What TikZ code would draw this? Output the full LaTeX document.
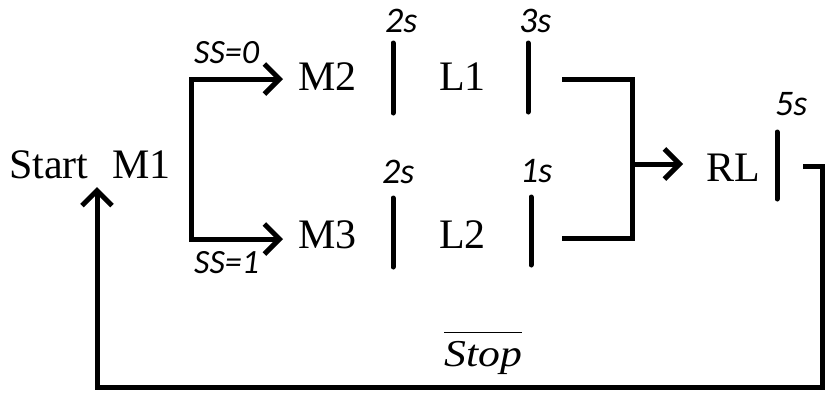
\documentclass[tikz,border=0pt]{standalone}
\usepackage{fontspec}
\usetikzlibrary{arrows.meta}
\newfontfamily\plainserif{Liberation Serif}
\newfontfamily\wideitalic{Liberation Serif Italic}[FakeStretch=1.15]
\newfontfamily\timefont{Carlito}
\tikzset{
  lbl/.style={inner sep=0pt, anchor=base west, font=\plainserif\fontsize{42}{46}\selectfont},
  tlbl/.style={inner sep=0pt, anchor=base west, font=\timefont\itshape\fontsize{36}{40}\selectfont},
  condlbl/.style={inner sep=0pt, anchor=base west, font=\timefont\itshape\fontsize{34}{38}\selectfont},
  wire/.style={line width=5pt, line join=miter},
  contact/.style={line width=5pt, line cap=round},
  flow/.style={wire, -{Straight Barb[length=15pt,width=30pt,line width=5pt]}},
}
\begin{document}
\begin{tikzpicture}[x=1pt,y=-1pt]
\useasboundingbox (0,0) rectangle (831,394);

% states
\node[lbl] (start) at (9,178) {Start};
\node[lbl] (m1) at (112,178) {M1};
\node[lbl] (m2) at (298,90) {M2};
\node[lbl] (m3) at (298,248) {M3};
\node[lbl] (l1) at (439,90) {L1};
\node[lbl] (l2) at (439,248) {L2};
\node[lbl] (rl) at (706,181) {RL};
\node[inner sep=0pt, anchor=base west, font=\wideitalic\fontsize{38}{42}\selectfont] (stop) at (444,366) {Stop};
\draw[line width=1.5pt] ([yshift=8pt]stop.north west) -- ([yshift=8pt]stop.north east);

% transition conditions
\node[condlbl] (ss0) at (194,63) {SS=0};
\node[condlbl] (ss1) at (194,273) {SS=1};
\node[tlbl] (t2a) at (385,32) {2s};
\node[tlbl] (t3) at (519,32) {3s};
\node[tlbl] (t2b) at (382,183) {2s};
\node[tlbl] (t1) at (520,182) {1s};
\node[tlbl] (t5) at (775,115) {5s};

% timer contacts
\coordinate (c1t) at (393,43);  \coordinate (c1b) at (393,113);
\coordinate (c2t) at (393,198); \coordinate (c2b) at (393,267);
\coordinate (c3t) at (528,43);  \coordinate (c3b) at (528,112);
\coordinate (c4t) at (531,197); \coordinate (c4b) at (531,265);
\coordinate (c5t) at (777,132); \coordinate (c5b) at (777,199);
\foreach \a/\b in {c1t/c1b,c2t/c2b,c3t/c3b,c4t/c4b,c5t/c5b}
  \draw[contact] (\a) -- (\b);

% selection branch from M1
\coordinate (forkT) at (191,79);
\coordinate (forkB) at (191,239);
\coordinate (m2in) at (283,79);
\coordinate (m3in) at (283,239);
\draw[flow] (forkB) -- (forkT) -- (m2in);
\draw[flow] (forkT) -- (forkB) -- (m3in);

% join into RL
\coordinate (l1out) at (562,79);
\coordinate (l2out) at (562,238);
\coordinate (joinT) at (632,79);
\coordinate (joinB) at (632,238);
\coordinate (joinM) at (632,164);
\coordinate (rlin) at (683,164);
\draw[wire] (l1out) -- (joinT) -- (joinB) -- (l2out);
\draw[flow] (joinM) -- (rlin);

% return loop to Start
\coordinate (rlout) at (803,166);
\coordinate (retR) at (822,166);
\coordinate (retBR) at (822,387);
\coordinate (retBL) at (97,387);
\coordinate (startin) at (97,187);
\draw[flow] (rlout) -- (retR) -- (retBR) -- (retBL) -- (startin);
\end{tikzpicture}
\end{document}
